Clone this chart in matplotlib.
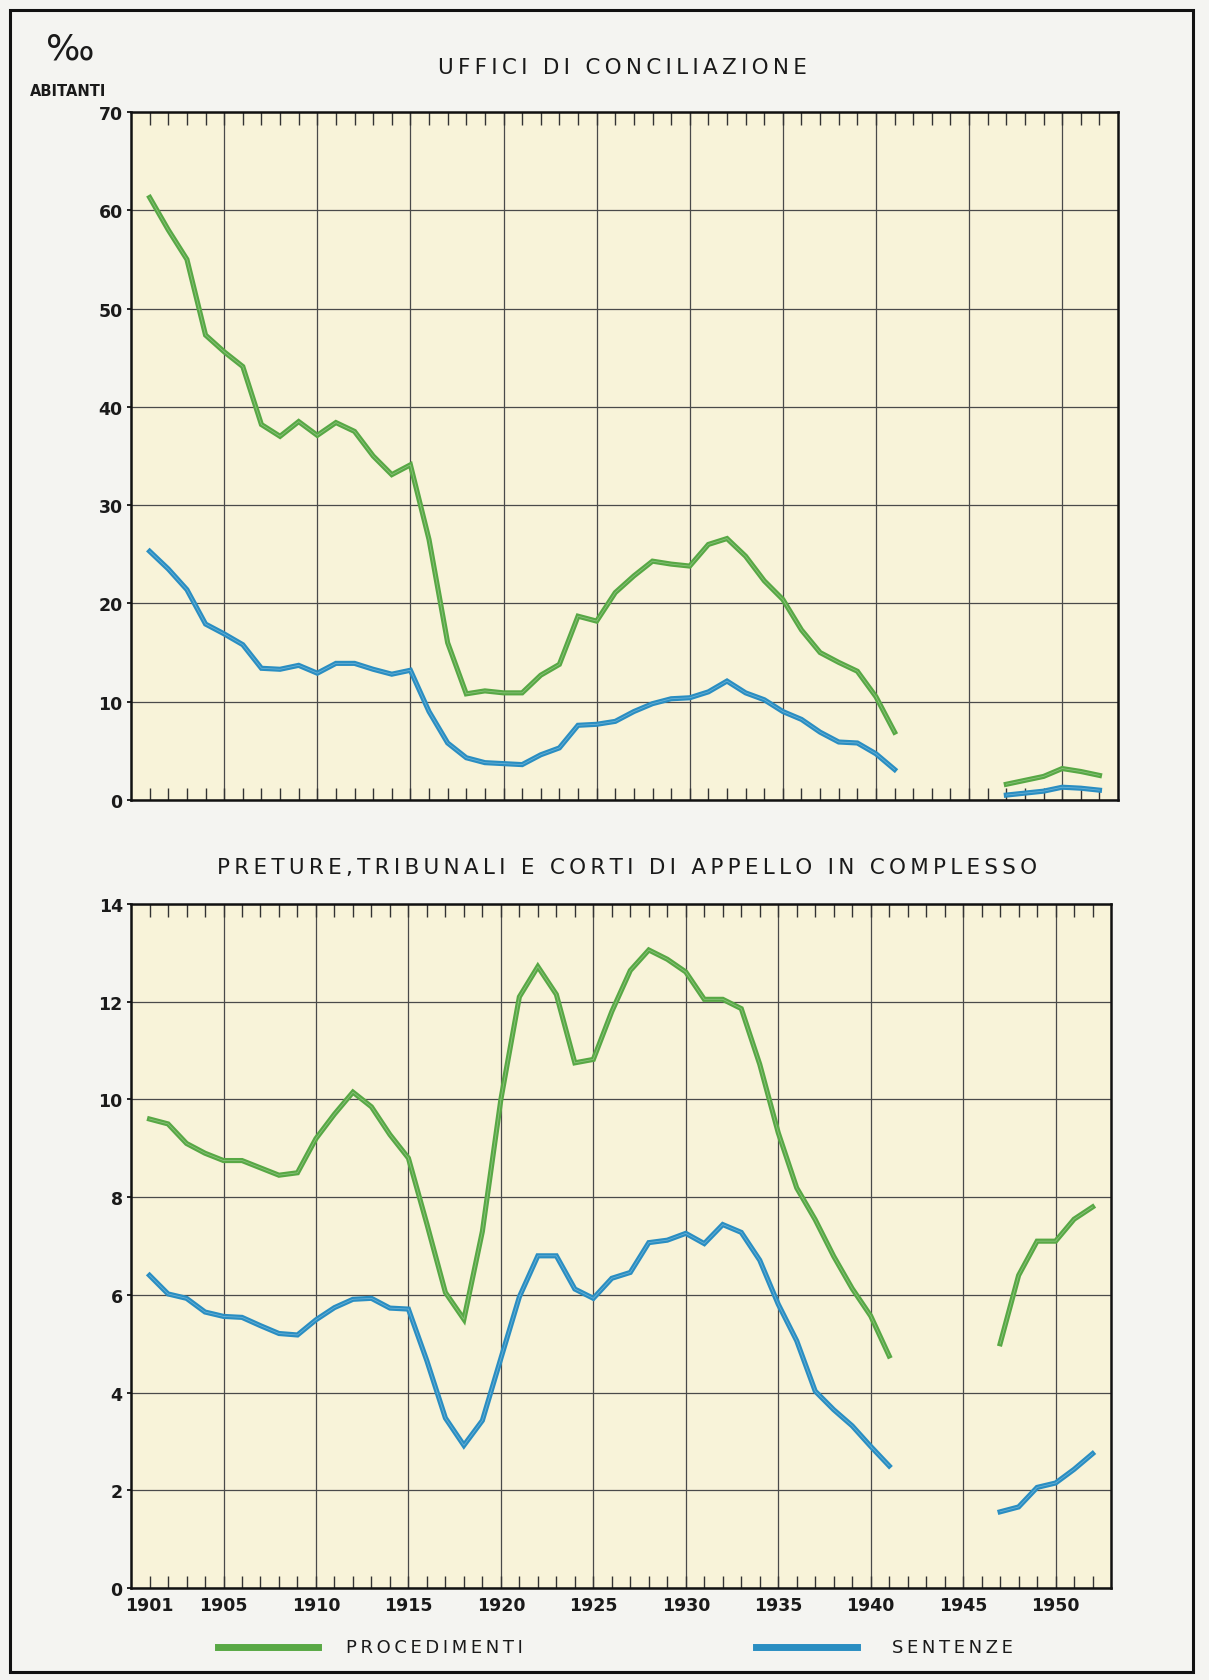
import matplotlib
matplotlib.use("Agg")
import matplotlib.pyplot as plt
from matplotlib.lines import Line2D
from matplotlib.patches import Rectangle

# Anni: serie prebellica 1901-1941, postbellica 1947-1952
anni_pre = list(range(1901, 1942))
anni_post = list(range(1947, 1953))

# Uffici di conciliazione (per mille abitanti)
conc_proc_pre = [61.3, 58.0, 55.0, 47.3, 45.6, 44.1, 38.2, 37.0, 38.5, 37.1,
                 38.4, 37.5, 35.0, 33.1, 34.1, 26.5, 16.0, 10.8, 11.1, 10.9,
                 10.9, 12.7, 13.8, 18.7, 18.2, 21.1, 22.8, 24.3, 24.0, 23.8,
                 26.0, 26.6, 24.8, 22.3, 20.4, 17.3, 15.0, 14.0, 13.1, 10.5, 6.9]
conc_sent_pre = [25.3, 23.5, 21.4, 17.9, 16.9, 15.8, 13.4, 13.3, 13.7, 12.9,
                 13.9, 13.9, 13.3, 12.8, 13.2, 9.0, 5.8, 4.3, 3.8, 3.7,
                 3.6, 4.6, 5.3, 7.6, 7.7, 8.0, 9.0, 9.8, 10.3, 10.4,
                 11.0, 12.1, 10.9, 10.2, 9.0, 8.2, 6.9, 5.9, 5.8, 4.7, 3.1]
conc_proc_post = [1.6, 2.0, 2.4, 3.2, 2.9, 2.5]
conc_sent_post = [0.5, 0.7, 0.9, 1.3, 1.2, 1.0]

# Preture, tribunali e corti di appello in complesso
pret_proc_pre = [9.6, 9.5, 9.1, 8.9, 8.75, 8.75, 8.6, 8.45, 8.5, 9.2,
                 9.7, 10.15, 9.85, 9.28, 8.8, 7.45, 6.05, 5.5, 7.3, 10.0,
                 12.1, 12.72, 12.15, 10.75, 10.82, 11.8, 12.64, 13.06, 12.87, 12.61,
                 12.05, 12.05, 11.86, 10.72, 9.32, 8.19, 7.54, 6.79, 6.13, 5.57, 4.75]
pret_sent_pre = [6.4, 6.02, 5.93, 5.65, 5.56, 5.54, 5.37, 5.21, 5.18, 5.49,
                 5.74, 5.91, 5.93, 5.73, 5.71, 4.65, 3.48, 2.92, 3.43, 4.7,
                 5.96, 6.8, 6.8, 6.12, 5.93, 6.34, 6.46, 7.07, 7.12, 7.26,
                 7.05, 7.44, 7.28, 6.71, 5.81, 5.06, 4.03, 3.65, 3.32, 2.9, 2.5]
pret_proc_post = [5.0, 6.4, 7.1, 7.1, 7.55, 7.8]
pret_sent_post = [1.56, 1.66, 2.06, 2.15, 2.43, 2.75]

etichette_anni = [1901, 1905, 1910, 1915, 1920, 1925, 1930, 1935, 1940, 1945, 1950]

VERDE = "#58a845"
BLU = "#2a8ec2"
FONDO = "#f8f3d9"
PAGINA = "#f4f4f1"

plt.rcParams["font.family"] = ["DejaVu Sans"]

fig = plt.figure(figsize=(12.09, 16.81), dpi=100, facecolor=PAGINA)

# cornice esterna
fig.add_artist(Rectangle((0.0083, 0.0048), 0.9785, 0.9887, transform=fig.transFigure,
                         fill=False, edgecolor="#111111", linewidth=2.2))


def linea(ax, x, y, colore):
    ax.plot(x, y, color=colore, linewidth=3.7, solid_joinstyle="miter", zorder=3)
    ax.plot(x, y, color="white", linewidth=0.6, alpha=0.3, zorder=4)


def prepara(ax, ymax, ystep, etichette):
    ax.set_facecolor(FONDO)
    ax.set_xlim(1900, 1953)
    ax.set_ylim(0, ymax)
    ax.set_yticks(range(0, ymax + 1, ystep))
    ax.set_xticks(etichette_anni)
    ax.set_xticks(range(1901, 1953), minor=True)
    ax.grid(True, which="major", color="#4a4a4a", linewidth=0.9, zorder=1)
    ax.set_axisbelow(True)
    ax.get_xgridlines()[0].set_visible(False)
    ax.tick_params(axis="x", which="minor", direction="in", top=True, bottom=True,
                   length=9, width=1.0, color="#333333")
    ax.tick_params(axis="x", which="major", direction="in", top=True, bottom=True,
                   length=9, width=1.0, color="#333333", pad=6,
                   labelbottom=etichette, labelsize=12.5)
    ax.tick_params(axis="y", which="major", length=3, width=1.2, pad=3, labelsize=12.5)
    for lab in ax.get_yticklabels() + ax.get_xticklabels():
        lab.set_fontweight("bold")
        lab.set_color("#1a1a1a")
    for s in ax.spines.values():
        s.set_linewidth(1.8)
        s.set_color("#111111")


# grafico superiore
ax1 = fig.add_axes([0.1084, 0.5235, 0.8164, 0.4093])
prepara(ax1, 70, 10, False)
linea(ax1, anni_pre, conc_proc_pre, VERDE)
linea(ax1, anni_pre, conc_sent_pre, BLU)
linea(ax1, anni_post, conc_proc_post, VERDE)
linea(ax1, anni_post, conc_sent_post, BLU)

# grafico inferiore
ax2 = fig.add_axes([0.1084, 0.0547, 0.8106, 0.4069])
prepara(ax2, 14, 2, True)
linea(ax2, anni_pre, pret_proc_pre, VERDE)
linea(ax2, anni_pre, pret_sent_pre, BLU)
linea(ax2, anni_post, pret_proc_post, VERDE)
linea(ax2, anni_post, pret_sent_post, BLU)

sp = "\u2009"
fig.text(622 / 1209, 1 - 68 / 1681, sp.join("UFFICI DI CONCILIAZIONE"),
         ha="center", va="center", fontsize=15.5, color="#1a1a1a")
fig.text(627 / 1209, 1 - 868 / 1681,
         sp.join("PRETURE,TRIBUNALI E CORTI DI APPELLO IN COMPLESSO"),
         ha="center", va="center", fontsize=15.5, color="#1a1a1a")

fig.text(70 / 1209, 1 - 50 / 1681, "‰", ha="center", va="center",
         fontsize=26, color="#1a1a1a")
fig.text(68 / 1209, 1 - 92 / 1681, "ABITANTI", ha="center", va="center",
         fontsize=10.5, fontweight="bold", color="#1a1a1a")

# legenda
yl = 1 - 1648 / 1681
fig.add_artist(Line2D([218 / 1209, 318 / 1209], [yl, yl], color=VERDE,
                      linewidth=5, transform=fig.transFigure))
fig.text(346 / 1209, yl, sp.join("PROCEDIMENTI"), ha="left", va="center",
         fontsize=13, color="#1a1a1a")
fig.add_artist(Line2D([756 / 1209, 857 / 1209], [yl, yl], color=BLU,
                      linewidth=5, transform=fig.transFigure))
fig.text(892 / 1209, yl, sp.join("SENTENZE"), ha="left", va="center",
         fontsize=13, color="#1a1a1a")

fig.savefig("out.png", dpi=100, facecolor=PAGINA)
